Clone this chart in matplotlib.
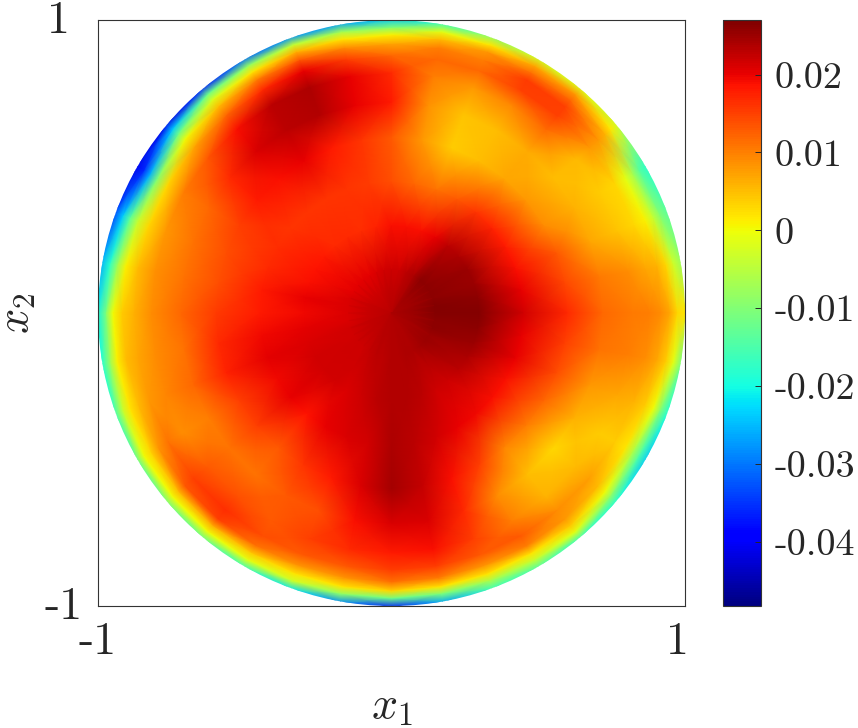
import numpy as np
import matplotlib
matplotlib.use("Agg")
import matplotlib.pyplot as plt
from matplotlib.patches import Circle
from matplotlib.transforms import ScaledTranslation

plt.rcParams["mathtext.fontset"] = "cm"
plt.rcParams["font.family"] = "cmr10"
plt.rcParams["axes.formatter.use_mathtext"] = True

# radii of the sampled rings, last one sits on the rim of the disc
radii = [0.0, 0.15, 0.3, 0.45, 0.6, 0.72, 0.82, 0.88, 0.92, 0.95, 0.975, 1.005]
center = 23.5

# values, x 1e-3, from r=0.15 out to the rim, one list per angle
a000 = [26.5, 26.5, 21.5, 17, 12, 10.5, 10, 9, 7, 3, 2]
a010 = [26.5, 26, 20, 14.5, 10.5, 9, 7, 6, 3, -3, -8]
a020 = [26, 25, 19, 13, 7, 4.5, 3, 1, -4, -10, -14]
a030 = [26, 25, 18, 9, 6, 4, 3, -1, -7, -14, -18]
a040 = [26, 24, 17.5, 8, 5, 5.5, 8, 8, 6, 2, -3]
a050 = [26, 23, 16, 7, 6.5, 12, 15, 15, 12, 8, -2]
a060 = [24, 20, 13, 5, 5, 9.5, 15, 15.5, 11, 7, -3]
a070 = [23, 19, 11, 4, 4.5, 8, 12, 10, 8, 2, -9]
a080 = [22, 19, 12, 8, 8.5, 10, 12, 10, 5, -1, -17]
a090 = [22, 19, 14, 13, 18, 17, 12, 7, 1, -10, -24]
a100 = [21.5, 17.5, 15.5, 16, 20, 20, 15, 9, 2, -7, -27]
a110 = [21, 16.5, 16, 18, 23.5, 24, 20, 13, 6, -4, -28]
a120 = [20.5, 17, 16, 20, 23, 23, 17, 10, 2, -8, -31]
a130 = [20.5, 17, 16, 19, 21, 19, 12, 5, -2, -12, -37]
a140 = [20.5, 18, 16, 18, 17, 13, 7, 0, -12, -24, -41]
a150 = [20.5, 18.5, 16.5, 15, 12, 10, 3, -10, -26, -36, -41]
a160 = [21, 19, 17, 14, 11, 8, 3, -4, -14, -24, -34]
a170 = [21, 20, 18, 14, 11, 8.5, 5, 1, -8, -18, -26]
a180 = [21, 19.5, 18, 15.5, 12, 9, 6, 4, 0, -11, -21]
a190 = [21, 20.5, 19.5, 17, 11, 9, 7, 5, 1, -8, -20]
a200 = [21.5, 21, 20.5, 17.5, 12, 9.5, 8, 5, 2, -4, -17]
a210 = [21.5, 21.5, 19.5, 15, 10, 9, 11, 8, 3, 0, -14]
a220 = [22, 21.5, 20, 15, 11, 13, 15, 13, 5, 0, -12]
a230 = [22, 21.5, 18.5, 13, 11, 14, 16.5, 15, 6, 0, -13]
a240 = [22.5, 21, 20, 16, 13, 13, 14, 11, 4, -1, -17]
a250 = [23, 22, 21, 18, 14, 15, 13, 8, 2, -3, -22]
a260 = [23, 23, 21.5, 21, 19, 17, 13, 8, 2, -9, -29]
a270 = [23.5, 23.5, 24, 24.5, 21, 18, 15, 11, 3, -12, -37]
a280 = [23.5, 23.5, 23, 22.5, 21, 19, 15, 10, 2, -11, -27]
a290 = [24, 23, 21.5, 19, 17, 15, 13, 8, 2, -7, -17]
a300 = [24, 22, 20, 15, 9, 10, 13, 10, 2, -4, -15]
a310 = [24.5, 22, 19.5, 9.5, 5, 6, 9, 8, 4, -1, -17]
a320 = [25, 23, 19, 10, 3, 5.5, 7.5, 5, 0, -9, -20]
a330 = [25, 24, 19, 12, 6, 4, 4, 2, -6, -15, -24]
a340 = [26, 25, 20, 14, 8, 7, 6, 4, 0, -10, -20]
a350 = [26, 26, 20, 15, 11, 10, 9, 7, 4, -1, -12]
profiles = [a000, a010, a020, a030, a040, a050, a060, a070, a080, a090, a100, a110,
            a120, a130, a140, a150, a160, a170, a180, a190, a200, a210, a220, a230,
            a240, a250, a260, a270, a280, a290, a300, a310, a320, a330, a340, a350]

cbar_ticks = [-0.04, -0.03, -0.02, -0.01, 0, 0.01, 0.02]
cbar_labels = ["-0.04", "-0.03", "-0.02", "-0.01", "0", "0.01", "0.02"]
vmin, vmax = -0.0482, 0.027

# add the center, then close the grid at 360 degrees
vals = np.array([[center] + p for p in profiles]).T * 1e-3
vals = np.hstack([vals, vals[:, :1]])
theta = np.deg2rad(np.arange(0, 370, 10))
rr, tt = np.meshgrid(radii, theta, indexing="ij")
x = rr * np.cos(tt)
y = rr * np.sin(tt)

fig = plt.figure(figsize=(8.58, 7.28), dpi=100)
ax = fig.add_axes([98 / 858, 1 - 606 / 728, 587 / 858, 586 / 728])
mesh = ax.pcolormesh(x, y, vals, cmap="jet", vmin=vmin, vmax=vmax, shading="gouraud", rasterized=True)
mesh.set_clip_path(Circle((0, 0), 1.0, transform=ax.transData))
ax.set_xlim(-1, 1)
ax.set_ylim(-1, 1)
ax.set_aspect("auto")
ax.set_xticks([-1, 1])
ax.set_yticks([-1, 1])
ax.set_xticklabels(["-1", "1"], fontsize=33)
ax.set_yticklabels(["-1", "1"], fontsize=33)
ax.tick_params(direction="in", length=4.3, width=0.7, color="0.15", labelcolor="0.15", top=True, right=True, pad=11)
for s in ax.spines.values():
    s.set_linewidth(0.8)
    s.set_color("0.2")

# the labels are not centered on their ticks in the original
px = 1 / 100
xoff = [0, -8]
yoff = [3, 3]
yxoff = [0, -13]
for lab, dx in zip(ax.get_xticklabels(), xoff):
    lab.set_transform(lab.get_transform() + ScaledTranslation(dx * px, 0, fig.dpi_scale_trans))
for lab, dx, dy in zip(ax.get_yticklabels(), yxoff, yoff):
    lab.set_transform(lab.get_transform() + ScaledTranslation(dx * px, dy * px, fig.dpi_scale_trans))

ax.set_xlabel(r"$x_1$", fontsize=33, color="0.15")
ax.set_ylabel(r"$x_2$", fontsize=32, color="0.15")
ax.xaxis.set_label_coords(0.5, -(686 - 606) / 586)
ax.yaxis.set_label_coords((38 - 98) / 587, 0.5)

cax = fig.add_axes([723 / 858, 1 - 606 / 728, 38 / 858, 586 / 728])
cb = fig.colorbar(mesh, cax=cax)
cb.set_ticks(cbar_ticks)
cb.set_ticklabels(cbar_labels, fontsize=27.5, color="0.15")
cb.ax.tick_params(direction="in", length=4.3, width=0.7, color="0.15", pad=10)
cb.outline.set_linewidth(0.8)
cb.outline.set_edgecolor("0.2")

fig.savefig("out.png", dpi=100)
